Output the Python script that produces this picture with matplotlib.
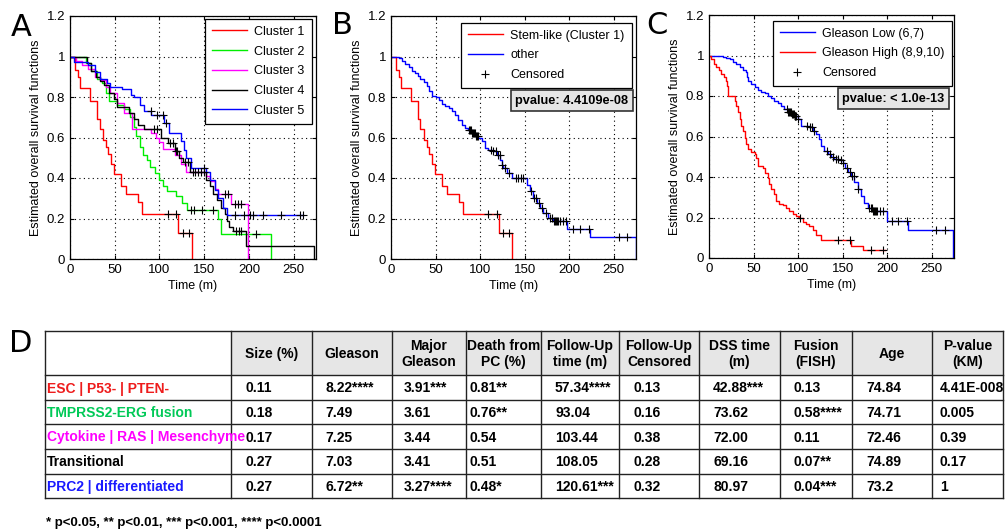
import numpy as np
import matplotlib
matplotlib.use("Agg")
import matplotlib.pyplot as plt
from matplotlib.lines import Line2D
from matplotlib.patches import Rectangle

plt.rcParams['font.family'] = ['Liberation Sans', 'DejaVu Sans']

# ---------- panel A : the five clusters ----------
# event times, survival after each event, last follow-up time, censored times
c1_t = [6, 9, 11, 22, 30, 33, 37, 40, 43, 46, 49, 57, 63, 76, 81, 121, 136]
c1_s = [0.935, 0.90, 0.845, 0.78, 0.69, 0.64, 0.59, 0.555, 0.52, 0.47, 0.42, 0.36, 0.32, 0.28, 0.22, 0.13, 0.0]
c1_end = 136
c1_cens = [109, 119, 126, 133]

c2_t = [18, 24, 30, 36, 40, 44, 52, 60, 67, 71, 74, 78, 82, 86, 89, 95, 100, 104, 108, 119, 125, 131, 165, 169, 225]
c2_s = [0.97, 0.93, 0.89, 0.87, 0.82, 0.78, 0.76, 0.74, 0.70, 0.65, 0.605, 0.555, 0.515, 0.49, 0.455, 0.425,
        0.39, 0.36, 0.335, 0.31, 0.275, 0.24, 0.20, 0.125, 0.0]
c2_end = 225
c2_cens = [135, 139, 148, 160, 208]

c3_t = [7, 13, 20, 28, 33, 40, 45, 52, 60, 69, 91, 96, 100, 104, 117, 124, 130, 152, 156, 162, 165, 180, 199]
c3_s = [0.98, 0.96, 0.94, 0.90, 0.885, 0.85, 0.82, 0.77, 0.72, 0.64, 0.62, 0.60, 0.58, 0.545, 0.515, 0.47,
        0.43, 0.41, 0.385, 0.345, 0.32, 0.27, 0.0]
c3_end = 199
c3_cens = [173, 177, 184, 188, 191]

c4_t = [19, 23, 29, 34, 38, 44, 49, 53, 66, 72, 76, 83, 102, 109, 117, 122, 126, 134, 152, 156, 160, 164,
        169, 173, 176, 178, 182, 197, 273]
c4_s = [0.97, 0.93, 0.90, 0.88, 0.86, 0.82, 0.79, 0.75, 0.72, 0.69, 0.66, 0.64, 0.60, 0.575, 0.535, 0.50,
        0.48, 0.43, 0.39, 0.36, 0.32, 0.29, 0.25, 0.22, 0.19, 0.16, 0.14, 0.065, 0.0]
c4_end = 273
c4_cens = [94, 97, 112, 115, 118, 120, 128, 132, 138, 140, 143, 146, 150, 186, 189, 191]

c5_t = [5, 20, 28, 33, 41, 45, 58, 68, 72, 78, 83, 91, 105, 111, 124, 127, 130, 135, 152, 156, 162, 165, 171, 175]
c5_s = [0.975, 0.96, 0.925, 0.89, 0.87, 0.85, 0.84, 0.81, 0.80, 0.76, 0.73, 0.71, 0.67, 0.62, 0.585, 0.54,
        0.50, 0.45, 0.43, 0.39, 0.34, 0.30, 0.25, 0.215]
c5_end = 261
c5_cens = [90, 97, 104, 107, 150, 184, 195, 201, 205, 216, 236, 257, 261]

# ---------- panel B : stem-like vs other ----------
oth_t = [8.6, 12.3, 16, 19.8, 23.5, 27.2, 29.9, 32.8, 36.6, 40.3, 42.9, 45.9, 50, 53.4, 57.1, 60.8, 64.6,
         68.3, 72, 75.7, 79.5, 83.2, 86.9, 90.7, 94.4, 98.1, 101.9, 105.6, 109.3, 114.9, 118.7, 122.4,
         124.3, 126.1, 129.9, 135.4, 152.2, 156, 159.7, 163.4, 167.2, 170.9, 176.5, 182.1, 197.8, 223.1, 275]
oth_s = [0.995, 0.979, 0.962, 0.946, 0.929, 0.918, 0.905, 0.888, 0.872, 0.852, 0.831, 0.806, 0.799, 0.783,
         0.766, 0.757, 0.745, 0.729, 0.712, 0.688, 0.663, 0.646, 0.635, 0.622, 0.609, 0.597, 0.581, 0.548,
         0.539, 0.531, 0.515, 0.49, 0.465, 0.449, 0.424, 0.40, 0.367, 0.334, 0.301, 0.276, 0.252, 0.227,
         0.202, 0.19, 0.148, 0.109, 0.0]
oth_end = 275
oth_cens = [88, 89, 90, 91, 92, 93, 94, 95, 96, 98, 112, 115, 118, 120, 122, 125, 128, 132, 140, 143, 146,
            148, 157, 160, 163, 166, 170, 174, 178, 181, 183, 184, 185, 186, 188, 190, 193, 196, 204, 212,
            222, 256, 265]

# ---------- panel C : Gleason low vs high ----------
low_t = [15.7, 19.4, 23.1, 26.9, 30.6, 34.3, 38.1, 41, 42.5, 44, 47.4, 51.1, 54.9, 58.6, 62.3, 66, 69.8,
         73.5, 77.2, 81, 84.7, 88.4, 92.2, 95.9, 99.6, 103.4, 112.7, 116.4, 120.1, 123.1, 125.7, 129.5,
         133.2, 136.9, 140.7, 146.3, 150, 153, 155.6, 159.3, 163.1, 166.8, 170.5, 174.3, 178, 183.6,
         199.3, 223.9, 274]
low_s = [0.995, 0.99, 0.983, 0.969, 0.958, 0.945, 0.93, 0.917, 0.893, 0.876, 0.86, 0.843, 0.831, 0.821,
         0.813, 0.802, 0.79, 0.777, 0.765, 0.752, 0.736, 0.722, 0.711, 0.70, 0.686, 0.653, 0.645, 0.628,
         0.612, 0.587, 0.554, 0.529, 0.512, 0.50, 0.49, 0.483, 0.471, 0.446, 0.425, 0.405, 0.375, 0.339,
         0.306, 0.273, 0.248, 0.234, 0.182, 0.14, 0.0]
low_end = 274
low_cens = [88, 89, 90, 91, 92, 93, 94, 95, 96, 97, 98, 100, 110, 113, 116, 118, 133, 136, 139, 142, 145,
            148, 150, 155, 158, 160, 163, 167, 180, 182, 183, 184, 185, 186, 187, 189, 192, 195, 205, 212,
            222, 255, 265]

high_t = [2.6, 5.2, 8.2, 11.2, 13.8, 16.4, 18.7, 20.1, 21.3, 28.7, 30.6, 32.5, 34.3, 36.2, 38.1, 39.9,
          41.8, 43.7, 47.4, 51.1, 53, 54.9, 60.4, 62.3, 66, 67.9, 69.8, 72.4, 75.4, 79.1, 82.8, 86.6, 90.3,
          94, 97.8, 101.5, 105.2, 109, 112.7, 116.4, 120.1, 125.7, 159, 172.4]
high_s = [0.983, 0.959, 0.942, 0.926, 0.909, 0.893, 0.876, 0.851, 0.802, 0.777, 0.752, 0.719, 0.686, 0.653,
          0.628, 0.595, 0.562, 0.537, 0.521, 0.512, 0.496, 0.455, 0.446, 0.421, 0.397, 0.364, 0.339, 0.314,
          0.281, 0.269, 0.26, 0.248, 0.231, 0.215, 0.207, 0.198, 0.177, 0.169, 0.157, 0.138, 0.116, 0.091,
          0.058, 0.038]
high_end = 197
high_cens = [102, 145, 158, 182, 195]

# ---------- panel D : table ----------
groups = ['ESC | P53- | PTEN-', 'TMPRSS2-ERG fusion', 'Cytokine | RAS | Mesenchyme',
          'Transitional', 'PRC2 | differentiated']
group_colors = ['#ee1c1c', '#00c957', '#ff00ff', 'black', '#1a1aff']
headers = ['Size (%)', 'Gleason', 'Major\nGleason', 'Death from\nPC (%)', 'Follow-Up\ntime (m)',
           'Follow-Up\nCensored', 'DSS time\n(m)', 'Fusion\n(FISH)', 'Age', 'P-value\n(KM)']
size_pct = ['0.11', '0.18', '0.17', '0.27', '0.27']
gleason = ['8.22****', '7.49', '7.25', '7.03', '6.72**']
major_gleason = ['3.91***', '3.61', '3.44', '3.41', '3.27****']
death_pc = ['0.81**', '0.76**', '0.54', '0.51', '0.48*']
followup_time = ['57.34****', '93.04', '103.44', '108.05', '120.61***']
followup_cens = ['0.13', '0.16', '0.38', '0.28', '0.32']
dss_time = ['42.88***', '73.62', '72.00', '69.16', '80.97']
fusion = ['0.13', '0.58****', '0.11', '0.07**', '0.04***']
age = ['74.84', '74.71', '72.46', '74.89', '73.2']
pval_km = ['4.41E-008', '0.005', '0.39', '0.17', '1']
columns = [size_pct, gleason, major_gleason, death_pc, followup_time, followup_cens,
           dss_time, fusion, age, pval_km]
footnote = '* p<0.05, ** p<0.01, *** p<0.001, **** p<0.0001'


def surv_at(times, surv, t):
    idx = np.searchsorted(times, t, side='right') - 1
    vals = np.asarray(surv)[np.clip(idx, 0, None)]
    return np.where(idx < 0, 1.0, vals)


def km(ax, times, surv, end, cens, color):
    x = [0] + list(times) + [end]
    y = [1] + list(surv) + [surv[-1]]
    ax.step(x, y, where='post', color=color, lw=1)
    ax.plot(cens, surv_at(times, surv, cens), '+', color='k', ms=6, mew=0.8, zorder=3)


def style(ax):
    ax.set_xlim(0, 275)
    ax.set_ylim(0, 1.2)
    ax.set_xticks(range(0, 251, 50))
    ax.set_yticks([0, 0.2, 0.4, 0.6, 0.8, 1, 1.2])
    ax.set_yticklabels(['0', '0.2', '0.4', '0.6', '0.8', '1', '1.2'])
    ax.grid(True, ls=(0, (1, 3)), color='k', lw=0.8)
    ax.tick_params(direction='in', top=True, right=True, labelsize=9.5, length=3)
    ax.set_xlabel('Time (m)', fontsize=9, labelpad=3)
    ax.set_ylabel('Estimated overall survival functions', fontsize=9, labelpad=3)
    for s in ax.spines.values():
        s.set_linewidth(0.9)


def legend(ax, handles, labels, anchor):
    leg = ax.legend(handles, labels, loc='upper right', bbox_to_anchor=anchor, borderaxespad=0,
                    fontsize=9, handlelength=2.8, handletextpad=0.6, fancybox=False,
                    edgecolor='black', framealpha=1, labelspacing=0.62, borderpad=0.55)
    leg.get_frame().set_linewidth(0.9)


fig = plt.figure(figsize=(10.07, 5.31), dpi=100)
W, H = 1007, 531

def axes_px(left, top, right, bottom):
    return fig.add_axes([left / W, 1 - bottom / H, (right - left) / W, (bottom - top) / H])

axA = axes_px(70, 16, 316, 259)
axB = axes_px(391, 16, 636, 259)
axC = axes_px(709, 15, 954, 258)

cens_handle = Line2D([], [], color='k', marker='+', ls='none', ms=6, mew=0.8)

# A
colsA = ['#ff0000', '#00ee00', '#ff00ff', 'black', '#0000ff']
km(axA, c1_t, c1_s, c1_end, c1_cens, colsA[0])
km(axA, c2_t, c2_s, c2_end, c2_cens, colsA[1])
km(axA, c3_t, c3_s, c3_end, c3_cens, colsA[2])
km(axA, c4_t, c4_s, c4_end, c4_cens, colsA[3])
km(axA, c5_t, c5_s, c5_end, c5_cens, colsA[4])
style(axA)
legend(axA, [Line2D([], [], color=c, lw=1) for c in colsA],
       ['Cluster 1', 'Cluster 2', 'Cluster 3', 'Cluster 4', 'Cluster 5'], (0.982, 0.988))

# B
km(axB, c1_t, c1_s, c1_end, c1_cens, '#ff0000')
km(axB, oth_t, oth_s, oth_end, oth_cens, '#0000ff')
style(axB)
legend(axB, [Line2D([], [], color='#ff0000', lw=1), Line2D([], [], color='#0000ff', lw=1), cens_handle],
       ['Stem-like (Cluster 1)', 'other', 'Censored'], (0.982, 0.972))
axB.text(0.968, 0.651, 'pvalue: 4.4109e-08', transform=axB.transAxes, ha='right', va='center',
         fontsize=9.2, fontweight='bold', zorder=6,
         bbox=dict(boxstyle='square,pad=0.35', fc='#e6e6e6', ec='#333333', lw=1.2))

# C
km(axC, low_t, low_s, low_end, low_cens, '#0000ff')
km(axC, high_t, high_s, high_end, high_cens, '#ff0000')
style(axC)
legend(axC, [Line2D([], [], color='#0000ff', lw=1), Line2D([], [], color='#ff0000', lw=1), cens_handle],
       ['Gleason Low (6,7)', 'Gleason High (8,9,10)', 'Censored'], (0.99, 0.976))
axC.text(0.962, 0.656, 'pvalue: < 1.0e-13', transform=axC.transAxes, ha='right', va='center',
         fontsize=9.2, fontweight='bold', zorder=6,
         bbox=dict(boxstyle='square,pad=0.35', fc='#e6e6e6', ec='#333333', lw=1.2))

# overlay in pixel coordinates for letters and table
ov = fig.add_axes([0, 0, 1, 1])
ov.set_xlim(0, W)
ov.set_ylim(H, 0)
ov.axis('off')
ov.patch.set_visible(False)

for letter, (x, y) in zip('ABCD', [(21, 27), (342, 25), (657, 25), (21, 343)]):
    ov.text(x, y, letter, fontsize=22, ha='center', va='center', family='DejaVu Sans')

col_x = [45, 231, 312, 392, 466, 541, 619, 699, 780, 852, 932, 1003]
row_y = [331, 375, 400, 424, 449, 474, 498]
offsets = [14, 13, 12, 4, 14, 14, 14, 13, 14, 8]

ov.add_patch(Rectangle((col_x[1], row_y[0]), col_x[-1] - col_x[1], row_y[1] - row_y[0],
                       fc='#e6e6e6', ec='none'))
for y in row_y:
    ov.plot([col_x[0], col_x[-1]], [y, y], color='#222222', lw=1)
for x in col_x:
    ov.plot([x, x], [row_y[0], row_y[-1]], color='#222222', lw=1)

tfont = dict(fontsize=10, fontweight='bold')
for j, h in enumerate(headers):
    ov.text((col_x[j + 1] + col_x[j + 2]) / 2, (row_y[0] + row_y[1]) / 2 + 1, h, ha='center',
            va='center', linespacing=1.1, **tfont)
for i, g in enumerate(groups):
    yc = (row_y[i + 1] + row_y[i + 2]) / 2 + 1
    ov.text(col_x[0] + 2, yc, g, color=group_colors[i], ha='left', va='center', **tfont)
    for j, col in enumerate(columns):
        ov.text(col_x[j + 1] + offsets[j], yc, col[i], ha='left', va='center', **tfont)

ov.text(46, 523, footnote, ha='left', va='center', fontsize=9.5, fontweight='bold')

fig.savefig('out.png', dpi=100)
